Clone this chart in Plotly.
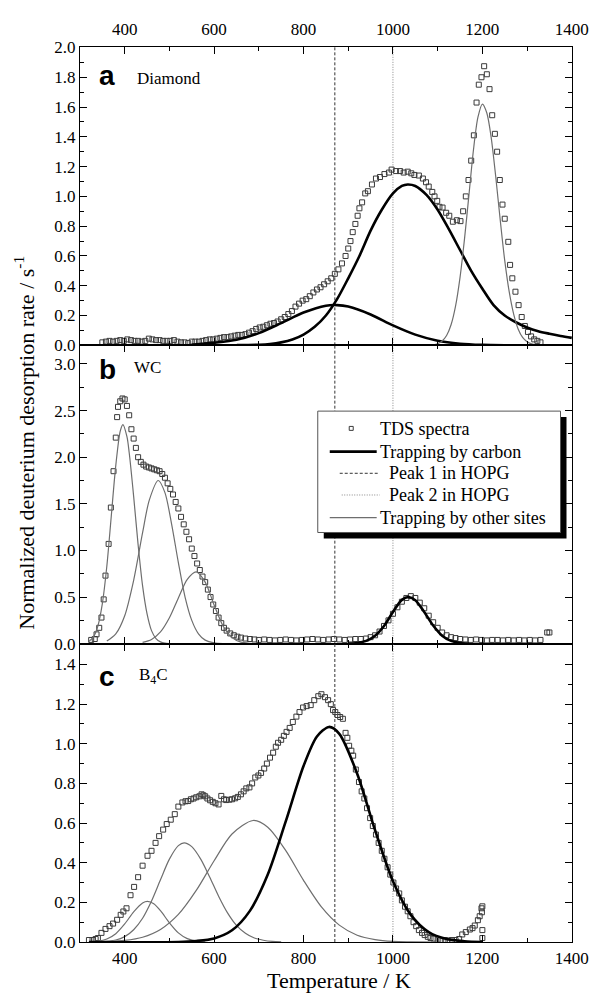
import plotly.graph_objects as go

# ---------------- data ----------------
# HOPG reference peaks (K)
hopg_peaks = [870, 1000]

# Panel a: Diamond
Ta_tds = [350, 358, 366, 374, 382, 390, 398, 406, 414, 422, 430, 438, 446, 454, 462, 470, 478, 486, 494, 502,
          510, 518, 526, 534, 542, 550, 558, 566, 574, 582, 590, 598, 606, 614, 622, 630, 638, 646, 654, 662,
          670, 678, 686, 694, 702, 710, 718, 726, 734, 742, 750, 758, 766, 774, 782, 790, 798, 806, 814, 822,
          830, 838, 846, 854, 862, 870, 878, 886, 894, 900, 905, 910, 916, 921, 925, 931, 938, 944, 953, 962,
          971, 981, 991, 997, 1007, 1016, 1024, 1033, 1041, 1048, 1058, 1067, 1074, 1080, 1088, 1093, 1099, 1104,
          1111, 1119, 1126, 1134, 1143, 1151, 1157, 1163, 1169, 1175, 1181, 1187, 1192, 1198, 1204, 1210, 1216,
          1222, 1228, 1233, 1239, 1245, 1250, 1258, 1262, 1267, 1274, 1281, 1288, 1295, 1302, 1309, 1316, 1323, 1330]
va_tds = [0.02, 0.025, 0.03, 0.025, 0.03, 0.035, 0.03, 0.04, 0.035, 0.03, 0.03, 0.025, 0.03, 0.045, 0.04, 0.035,
          0.035, 0.03, 0.03, 0.03, 0.035, 0.025, 0.02, 0.02, 0.015, 0.025, 0.025, 0.025, 0.03, 0.035, 0.04, 0.04,
          0.045, 0.05, 0.055, 0.055, 0.06, 0.065, 0.07, 0.07, 0.075, 0.085, 0.095, 0.11, 0.12, 0.125, 0.135, 0.145,
          0.15, 0.16, 0.175, 0.19, 0.21, 0.23, 0.26, 0.28, 0.30, 0.31, 0.33, 0.355, 0.375, 0.39, 0.41, 0.43, 0.45,
          0.48, 0.51, 0.55, 0.60, 0.65, 0.70, 0.76, 0.815, 0.87, 0.92, 0.96, 1.02, 1.035, 1.08, 1.12, 1.13, 1.15,
          1.16, 1.18, 1.17, 1.17, 1.16, 1.166, 1.155, 1.144, 1.14, 1.12, 1.095, 1.066, 1.03, 1.0, 0.97, 0.93, 0.925,
          0.89, 0.87, 0.83, 0.84, 0.834, 0.90, 1.00, 1.11, 1.24, 1.41, 1.63, 1.75, 1.80, 1.874, 1.82, 1.72, 1.545,
          1.42, 1.30, 1.11, 0.945, 0.85, 0.695, 0.54, 0.45, 0.36, 0.27, 0.19, 0.13, 0.09, 0.06, 0.04, 0.03, 0.02]

Ta_c1 = [600, 650, 700, 725, 750, 775, 800, 825, 850, 875, 900, 925, 950, 975, 1000, 1020, 1033, 1050, 1075,
         1100, 1125, 1150, 1175, 1200, 1225, 1250, 1275, 1300, 1325, 1350, 1375, 1400]
va_c1 = [0.0, 0.001, 0.004, 0.009, 0.02, 0.039, 0.072, 0.124, 0.20, 0.31, 0.45, 0.60, 0.77, 0.91, 1.02, 1.07,
         1.08, 1.07, 1.01, 0.91, 0.78, 0.64, 0.50, 0.38, 0.27, 0.20, 0.155, 0.12, 0.095, 0.078, 0.063, 0.05]

Ta_c2 = [550, 600, 650, 700, 750, 800, 850, 875, 900, 950, 1000, 1050, 1100, 1150, 1200, 1250]
va_c2 = [0.004, 0.017, 0.037, 0.082, 0.149, 0.22, 0.266, 0.27, 0.26, 0.207, 0.134, 0.072, 0.031, 0.011, 0.003, 0.0]

Ta_o1 = [1090, 1100, 1110, 1120, 1130, 1140, 1150, 1160, 1170, 1180, 1190, 1200, 1210, 1220, 1230, 1240, 1250,
         1260, 1270, 1280, 1290, 1300, 1310, 1320, 1340]
va_o1 = [0.004, 0.011, 0.029, 0.066, 0.138, 0.263, 0.455, 0.713, 1.01, 1.31, 1.53, 1.62, 1.56, 1.39, 1.13, 0.84,
         0.57, 0.36, 0.21, 0.11, 0.053, 0.024, 0.01, 0.004, 0.0]

# Panel b: WC
Tb_tds = [325, 333, 337, 343, 348, 353, 357, 364, 369, 375, 380, 383, 385, 390, 395, 400, 405, 410, 415, 420,
          425, 430, 436, 442, 448, 454, 460, 466, 472, 478, 484, 490, 496, 502, 508, 514, 520, 526, 532, 538,
          544, 550, 556, 562, 568, 574, 580, 586, 592, 598, 604, 610, 616, 622, 628, 636, 644, 652, 660, 670,
          680, 690, 700, 712, 724, 736, 748, 760, 772, 784, 796, 808, 820, 832, 844, 856, 868, 880, 892, 904,
          916, 928, 940, 950, 960, 970, 980, 990, 1000, 1010, 1020, 1030, 1040, 1050, 1060, 1070, 1080, 1090,
          1100, 1110, 1120, 1130, 1140, 1150, 1162, 1174, 1186, 1198, 1210, 1222, 1234, 1246, 1258, 1270, 1282,
          1294, 1306, 1318, 1330, 1345, 1350]
vb_tds = [0.04, 0.05, 0.10, 0.17, 0.28, 0.475, 0.73, 1.07, 1.46, 1.85, 2.21, 2.43, 2.54, 2.60, 2.63, 2.62, 2.55,
          2.45, 2.30, 2.20, 2.10, 2.00, 1.95, 1.92, 1.90, 1.89, 1.88, 1.87, 1.86, 1.85, 1.82, 1.78, 1.72, 1.66,
          1.60, 1.52, 1.45, 1.36, 1.28, 1.20, 1.12, 1.02, 0.94, 0.86, 0.79, 0.72, 0.66, 0.58, 0.50, 0.42, 0.35,
          0.28, 0.22, 0.17, 0.14, 0.11, 0.09, 0.075, 0.065, 0.055, 0.05, 0.045, 0.04, 0.045, 0.04, 0.035, 0.04,
          0.045, 0.04, 0.035, 0.04, 0.045, 0.05, 0.045, 0.04, 0.045, 0.05, 0.045, 0.04, 0.045, 0.05, 0.05, 0.055,
          0.07, 0.09, 0.13, 0.19, 0.25, 0.32, 0.39, 0.45, 0.49, 0.51, 0.49, 0.44, 0.38, 0.30, 0.23, 0.17, 0.12,
          0.09, 0.07, 0.06, 0.05, 0.045, 0.04, 0.045, 0.04, 0.035, 0.04, 0.04, 0.035, 0.04, 0.035, 0.04, 0.035,
          0.04, 0.035, 0.04, 0.12, 0.12]

Tb_o1 = [320, 330, 340, 350, 360, 370, 380, 390, 396, 405, 410, 420, 430, 440, 450, 460, 470, 480, 490, 500]
vb_o1 = [0.023, 0.072, 0.19, 0.43, 0.83, 1.37, 1.91, 2.28, 2.35, 2.22, 2.05, 1.58, 1.06, 0.62, 0.32, 0.14,
         0.055, 0.019, 0.005, 0.001]
Tb_o2 = [360, 380, 400, 420, 440, 455, 475, 490, 505, 520, 535, 550, 565, 580, 600, 620]
vb_o2 = [0.028, 0.105, 0.30, 0.68, 1.19, 1.54, 1.75, 1.62, 1.28, 0.87, 0.50, 0.25, 0.106, 0.038, 0.008, 0.001]
Tb_o3 = [440, 460, 480, 500, 520, 540, 560, 580, 600, 620, 640, 660, 680, 700]
vb_o3 = [0.013, 0.045, 0.126, 0.278, 0.49, 0.69, 0.77, 0.66, 0.415, 0.19, 0.065, 0.016, 0.003, 0.0]
Tb_c1 = [900, 920, 940, 960, 980, 1000, 1020, 1035, 1050, 1070, 1090, 1110, 1130, 1150, 1170]
vb_c1 = [0.002, 0.008, 0.03, 0.086, 0.19, 0.34, 0.47, 0.50, 0.466, 0.34, 0.195, 0.086, 0.03, 0.008, 0.002]

# Panel c: B4C
Tc_tds = [320, 328, 335, 340, 348, 357, 366, 374, 383, 391, 397, 404, 413, 421, 430, 440, 451, 460, 469, 477,
          486, 494, 503, 512, 520, 529, 536, 542, 548, 554, 560, 567, 572, 576, 580, 585, 591, 597, 603, 610,
          616, 622, 627, 634, 640, 647, 653, 660, 666, 672, 679, 685, 692, 699, 705, 712, 718, 725, 732, 738,
          743, 750, 756, 762, 769, 776, 784, 791, 799, 807, 816, 824, 833, 840, 848, 855, 861, 866, 871, 876,
          882, 888, 894, 898, 902, 907, 911, 917, 924, 930, 936, 942, 949, 955, 962, 968, 975, 981, 988, 994,
          1001, 1007, 1014, 1020, 1027, 1033, 1039, 1046, 1052, 1058, 1065, 1071, 1078, 1084, 1091, 1100, 1108,
          1116, 1124, 1132, 1140, 1148, 1155, 1163, 1172, 1178, 1183, 1190, 1194, 1198, 1200, 1199, 1200, 1200]
vc_tds = [0.01, 0.01, 0.015, 0.02, 0.046, 0.066, 0.08, 0.093, 0.112, 0.137, 0.154, 0.17, 0.236, 0.278, 0.327,
          0.385, 0.435, 0.46, 0.50, 0.534, 0.567, 0.595, 0.617, 0.645, 0.683, 0.704, 0.71, 0.711, 0.72, 0.724,
          0.73, 0.735, 0.745, 0.74, 0.735, 0.724, 0.715, 0.707, 0.70, 0.694, 0.737, 0.72, 0.716, 0.718, 0.72,
          0.725, 0.732, 0.745, 0.76, 0.775, 0.78, 0.80, 0.83, 0.84, 0.853, 0.875, 0.90, 0.93, 0.955, 0.985, 1.005,
          1.02, 1.04, 1.06, 1.08, 1.11, 1.137, 1.16, 1.183, 1.19, 1.195, 1.22, 1.24, 1.25, 1.235, 1.22, 1.20, 1.17,
          1.16, 1.145, 1.135, 1.126, 1.055, 1.03, 0.99, 0.965, 0.94, 0.87, 0.807, 0.76, 0.724, 0.675, 0.625,
          0.585, 0.542, 0.50, 0.46, 0.42, 0.377, 0.34, 0.30, 0.27, 0.245, 0.21, 0.178, 0.155, 0.13, 0.10, 0.08,
          0.06, 0.046, 0.035, 0.026, 0.02, 0.017, 0.012, 0.01, 0.01, 0.008, 0.01, 0.01, 0.015, 0.038, 0.05,
          0.063, 0.07, 0.083, 0.11, 0.13, 0.17, 0.18, 0.15, 0.06, 0.02]

Tc_o1 = [320, 340, 360, 380, 400, 420, 440, 451, 465, 480, 500, 520, 540, 560, 580]
vc_o1 = [0.001, 0.004, 0.015, 0.042, 0.091, 0.152, 0.197, 0.205, 0.193, 0.158, 0.097, 0.046, 0.017, 0.005, 0.001]
Tc_o2 = [340, 380, 400, 420, 440, 460, 480, 500, 520, 533, 550, 570, 590, 610, 630, 650, 670, 690, 710, 730, 750]
vc_o2 = [0.001, 0.01, 0.027, 0.062, 0.12, 0.207, 0.314, 0.418, 0.486, 0.50, 0.481, 0.418, 0.328, 0.231, 0.147,
         0.084, 0.044, 0.02, 0.009, 0.003, 0.001]
Tc_o3 = [320, 360, 400, 440, 480, 520, 560, 600, 640, 687, 720, 760, 800, 840, 880, 920, 960, 1000, 1040, 1100]
vc_o3 = [0.0, 0.002, 0.008, 0.024, 0.063, 0.139, 0.26, 0.41, 0.545, 0.613, 0.579, 0.462, 0.311, 0.177, 0.085,
         0.034, 0.012, 0.003, 0.001, 0.0]
Tc_c1 = [320, 520, 560, 600, 640, 680, 720, 760, 800, 830, 857, 880, 920, 960, 1000, 1040, 1080, 1120, 1160, 1200]
vc_c1 = [0.0, 0.0, 0.005, 0.018, 0.059, 0.157, 0.34, 0.607, 0.888, 1.037, 1.085, 1.05, 0.849, 0.564, 0.307,
         0.137, 0.05, 0.015, 0.004, 0.0]

panel_ranges = [[0, 2.003], [0, 3.2], [0, 1.505]]

legend_labels = ["TDS spectra", "Trapping by carbon", "Peak 1 in HOPG", "Peak 2 in HOPG",
                 "Trapping by other sites"]

# ---------------- figure ----------------
SERIF = "Liberation Serif"
SANS = "Liberation Sans"
GRAY = "#6e6e6e"
MK = "#3a3a3a"
PEAK1 = dict(color="#333333", width=1, dash="3px,2px")
PEAK2 = dict(color="#888888", width=1, dash="1px,1.5px")
CARBON = dict(color="black", width=2.6, shape="spline", smoothing=0.8)
OTHER = dict(color=GRAY, width=1.2, shape="spline", smoothing=0.8)

# page body has an 8px margin: the figure is 594x987 and is drawn 8px in from top/left
OFF = 8
W, H = 602 - OFF, 995 - OFF
PL, PR, PT, PB = 80, 572.5, 35, 942          # plot area in page pixels

fig = go.Figure()

def tds(x, y, xa, ya):
    fig.add_trace(go.Scatter(x=x, y=y, mode="markers", xaxis=xa, yaxis=ya, name=legend_labels[0],
                             showlegend=False,
                             marker=dict(symbol="square-open", size=5, color=MK, line=dict(width=1, color=MK))))

def curve(x, y, xa, ya, kind):
    fig.add_trace(go.Scatter(x=x, y=y, mode="lines", xaxis=xa, yaxis=ya, showlegend=False,
                             name=legend_labels[1] if kind == "carbon" else legend_labels[4],
                             line=CARBON if kind == "carbon" else OTHER))

axes = [("x", "y"), ("x2", "y2"), ("x3", "y3")]

for i, (xa, ya) in enumerate(axes):
    for k, T in enumerate(hopg_peaks):
        fig.add_trace(go.Scatter(x=[T, T], y=panel_ranges[i], mode="lines", xaxis=xa, yaxis=ya,
                                 line=PEAK1 if k == 0 else PEAK2, name=legend_labels[2 + k], showlegend=False))

tds(Ta_tds, va_tds, "x", "y")
curve(Ta_c2, va_c2, "x", "y", "carbon")
curve(Ta_c1, va_c1, "x", "y", "carbon")
curve(Ta_o1, va_o1, "x", "y", "other")

tds(Tb_tds, vb_tds, "x2", "y2")
curve(Tb_o1, vb_o1, "x2", "y2", "other")
curve(Tb_o2, vb_o2, "x2", "y2", "other")
curve(Tb_o3, vb_o3, "x2", "y2", "other")
curve(Tb_c1, vb_c1, "x2", "y2", "carbon")

tds(Tc_tds, vc_tds, "x3", "y3")
curve(Tc_o1, vc_o1, "x3", "y3", "other")
curve(Tc_o2, vc_o2, "x3", "y3", "other")
curve(Tc_o3, vc_o3, "x3", "y3", "other")
curve(Tc_c1, vc_c1, "x3", "y3", "carbon")

tickfont = dict(family=SERIF, size=17, color="black")
xcommon = dict(range=[300, 1400.5], tickvals=[400, 600, 800, 1000, 1200, 1400], ticks="inside", ticklen=7,
               tickwidth=1, tickcolor="black", minor=dict(tickvals=[300, 500, 700, 900, 1100, 1300],
                                                           ticks="inside", ticklen=4, tickcolor="black"),
               showline=True, linecolor="black", linewidth=1.2, mirror="ticks", showgrid=False,
               zeroline=False, tickfont=tickfont)
ycommon = dict(ticks="inside", ticklen=7, tickwidth=1, tickcolor="black", showline=True, linecolor="black",
               linewidth=1.2, mirror="ticks", showgrid=False, zeroline=False, tickfont=tickfont,
               tickformat=".1f", tick0=0)

fig.update_layout(
    width=W, height=H,
    margin=dict(l=PL - OFF, r=W - (PR - OFF), t=PT - OFF, b=H - (PB - OFF)),
    paper_bgcolor="white", plot_bgcolor="white", showlegend=False,
    xaxis=dict(xcommon, anchor="y", side="top", showticklabels=True, ticklabelstandoff=4),
    xaxis2=dict(xcommon, anchor="y2", showticklabels=False),
    xaxis3=dict(xcommon, anchor="y3", side="bottom", showticklabels=True),
    yaxis=dict(ycommon, domain=[2 / 3, 1], range=panel_ranges[0], anchor="x", dtick=0.2,
               minor=dict(dtick=0.1, ticks="inside", ticklen=4, tickcolor="black")),
    yaxis2=dict(ycommon, domain=[1 / 3, 2 / 3], range=panel_ranges[1], anchor="x2", dtick=0.5,
                minor=dict(dtick=0.25, ticks="inside", ticklen=4, tickcolor="black")),
    yaxis3=dict(ycommon, domain=[0, 1 / 3], range=panel_ranges[2], anchor="x3", dtick=0.2,
                minor=dict(dtick=0.1, ticks="inside", ticklen=4, tickcolor="black")),
)

def px2x(px):
    return (px - PL) / (PR - PL)

def px2y(py):
    return (PB - py) / (PB - PT)

def prect(x0, y0, x1, y1, **kw):
    fig.add_shape(type="rect", xref="paper", yref="paper", x0=px2x(x0), x1=px2x(x1), y0=px2y(y1),
                  y1=px2y(y0), layer="above", **kw)

def pline(x0, x1, y, line):
    fig.add_shape(type="line", xref="paper", yref="paper", x0=px2x(x0), x1=px2x(x1), y0=px2y(y), y1=px2y(y),
                  layer="above", line=line)

# legend box (with drop shadow)
prect(324, 410, 567, 533, fillcolor="black", line=dict(width=0))
prect(318, 404, 561, 527, fillcolor="white", line=dict(color="#555555", width=1))
prect(349.5, 419.5, 353.5, 423.5, fillcolor="rgba(0,0,0,0)", line=dict(color=MK, width=1))
pline(330, 377, 445, dict(color="black", width=2.6))
pline(340, 378, 467, dict(color=PEAK1["color"], width=1, dash=PEAK1["dash"]))
pline(342, 380, 489, dict(color=PEAK2["color"], width=1, dash=PEAK2["dash"]))
pline(330, 377, 512, dict(color=GRAY, width=1.2))

ann = []
for lab, xl, yl in zip(legend_labels, [378, 378, 387, 387, 378], [422, 445, 467, 489, 512]):
    ann.append(dict(text=lab, x=px2x(xl), y=px2y(yl), xref="paper", yref="paper", xanchor="left",
                    yanchor="middle", showarrow=False, font=dict(family=SERIF, size=18, color="black")))

for lab, name, yc, yn, xn in [("a", "Diamond", 63.5, 67, 135), ("b", "WC", 362, 360, 132),
                               ("c", "B<sub>4</sub>C", 673, 672, 137)]:
    ann.append(dict(text="<b>%s</b>" % lab, x=px2x(97), y=px2y(yc), xref="paper", yref="paper",
                    xanchor="left", yanchor="middle", showarrow=False,
                    font=dict(family=SANS, size=28, color="black")))
    ann.append(dict(text=name, x=px2x(xn), y=px2y(yn), xref="paper", yref="paper",
                    xanchor="left", yanchor="middle", showarrow=False,
                    font=dict(family=SERIF, size=17, color="black")))
ann.append(dict(text="Temperature / K", x=px2x(339), y=px2y(981), xref="paper", yref="paper",
                xanchor="center", yanchor="middle", showarrow=False,
                font=dict(family=SERIF, size=22, color="black")))
ann.append(dict(text="Normalized deuterium desorption rate / s<sup>-1</sup>", x=px2x(24), y=px2y(436),
                xref="paper", yref="paper", xanchor="center", yanchor="middle", textangle=-90,
                showarrow=False, font=dict(family=SERIF, size=22, color="black")))
fig.update_layout(annotations=ann)

fig.write_html("out.html")
